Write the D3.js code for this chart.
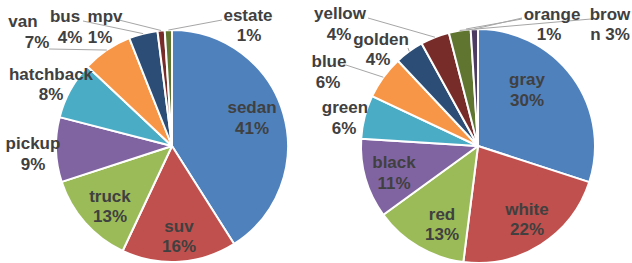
<!DOCTYPE html>
<html>
<head>
<meta charset="utf-8">
<script src="https://cdn.jsdelivr.net/npm/d3@7"></script>
<style>
  body { margin: 0; background: #fff; }
  text { font-family: "Liberation Sans", Arial, sans-serif; font-weight: bold; font-size: 17px; fill: #404040; }
</style>
</head>
<body>
<div id="chart"></div>
<script>
// left pie: vehicle types
const typeNames = ['sedan', 'suv', 'truck', 'pickup', 'hatchback', 'van', 'bus', 'mpv', 'estate'];
const typeValues = [41, 16, 13, 9, 8, 7, 4, 1, 1];

// right pie: colours
const colorNames = ['gray', 'white', 'red', 'black', 'green', 'blue', 'golden', 'yellow', 'brown', 'orange'];
const colorValues = [30, 22, 13, 11, 6, 6, 4, 4, 3, 1];

const palette = ['#4F81BD', '#C0504D', '#9BBB59', '#8064A2', '#4BACC6', '#F79646',
                 '#2C4D75', '#772C2A', '#5F7530', '#4D3B62'];

// label layout: [x line1, y line1, x line2, y line2, leader start x, leader start y]
const typeLabelPos = [
  [252, 113, 252, 134],
  [179, 232, 179, 252],
  [110, 202, 110, 222],
  [33, 149, 33, 170],
  [51, 80, 51, 100],
  [23, 27, 37, 48, 49, 49],
  [65, 22, 70, 43, 83, 21],
  [105, 22, 100, 43, 119, 20],
  [248, 21, 249, 41, 222, 20]
];
const colorLabelPos = [
  [527, 85, 527, 106],
  [527, 215, 527, 235],
  [442, 220, 442, 240],
  [394, 168, 394, 189],
  [345, 113, 344, 134],
  [329, 67, 328, 88, 346, 65],
  [381, 45, 378, 65, 408, 48],
  [340, 19, 339, 40, 368, 18],
  [610, 20, 610, 40, 591, 19],
  [552, 20, 549, 40, 522, 18]
];

const svg = d3.select('#chart').append('svg')
  .attr('width', 632)
  .attr('height', 263);

function drawPie(names, values, cx, cy, r, labelPos, wrap) {
  const pie = d3.pie().sort(null).value(d => d)(values);
  const arc = d3.arc().innerRadius(0).outerRadius(r);

  const g = svg.append('g').attr('transform', `translate(${cx},${cy})`);

  // leader lines (under slices' labels)
  pie.forEach((p, i) => {
    const lp = labelPos[i];
    if (lp.length < 6) return;
    const mid = (p.startAngle + p.endAngle) / 2;
    const ex = cx + r * Math.sin(mid);
    const ey = cy - r * Math.cos(mid);
    svg.append('path')
      .attr('d', d3.line()([[lp[4], lp[5]], [ex, ey]]))
      .attr('fill', 'none')
      .attr('stroke', '#A6A6A6')
      .attr('stroke-width', 1);
  });

  g.selectAll('path.slice')
    .data(pie)
    .enter()
    .append('path')
    .attr('class', 'slice')
    .attr('d', arc)
    .attr('fill', (d, i) => palette[i])
    .attr('stroke', '#fff')
    .attr('stroke-width', 2)
    .attr('stroke-linejoin', 'round');

  pie.forEach((p, i) => {
    const lp = labelPos[i];
    const lines = wrap[i] || [names[i], values[i] + '%'];
    svg.append('text').attr('x', lp[0]).attr('y', lp[1])
      .attr('text-anchor', 'middle').text(lines[0]);
    svg.append('text').attr('x', lp[2]).attr('y', lp[3])
      .attr('text-anchor', 'middle').text(lines[1]);
  });
}

drawPie(typeNames, typeValues, 172, 146, 116, typeLabelPos, {});
drawPie(colorNames, colorValues, 478, 146, 117, colorLabelPos, { 8: ['brow', 'n 3%'] });

// brown's leader runs on behind the orange label down to its slice
svg.append('path')
  .attr('d', d3.line()([[522, 19], [466, 29]]))
  .attr('stroke', '#A6A6A6')
  .attr('fill', 'none');
</script>
</body>
</html>
